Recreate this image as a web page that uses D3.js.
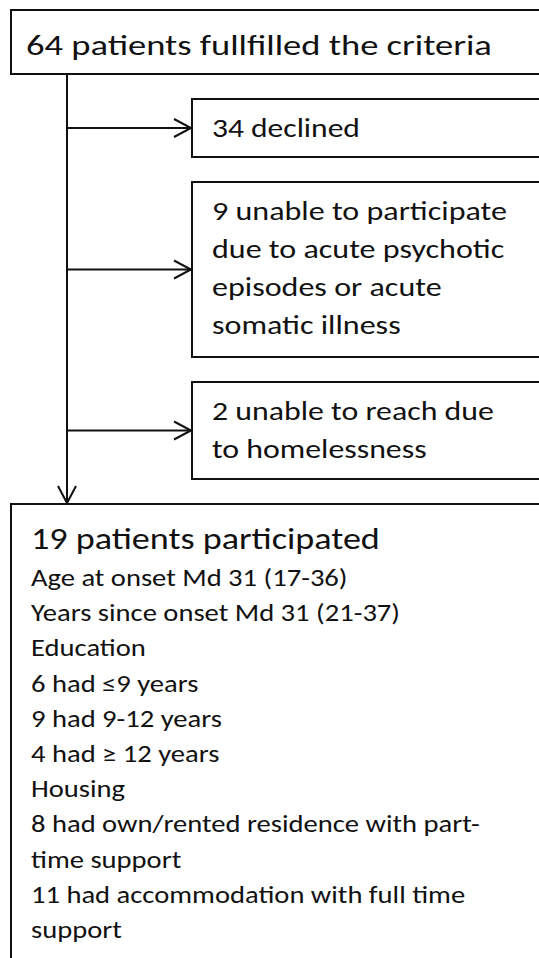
<!DOCTYPE html>
<html><head><meta charset="utf-8">
<script src="https://cdn.jsdelivr.net/npm/d3@7"></script>
<style>html,body{margin:0;padding:0;background:#fff;overflow:hidden}</style>
</head><body><svg id="c" width="539" height="958"></svg>
<script>
// ---- data (text content of the flow chart) ----
const screenedLines = ["64 patients fullfilled the criteria"];
const excludedLabels = [
  ["34 declined"],
  ["9 unable to participate", "due to acute psychotic", "episodes or acute", "somatic illness"],
  ["2 unable to reach due", "to homelessness"]
];
const participantTitle = ["19 patients participated"];
const participantLines = [
  "Age at onset Md 31 (17-36)",
  "Years since onset Md 31 (21-37)",
  "Education",
  "6 had \u22649 years",
  "9 had 9-12 years",
  "4 had \u2265 12 years",
  "Housing",
  "8 had own/rented residence with part-",
  "time support",
  "11 had accommodation with full time",
  "support"
];

// ---- layout ----
const FONT = "Carlito, Lato, 'Open Sans', sans-serif";
const svg = d3.select("#c");
const ink = "#111";
const SW = 2;

const topBox = {x: 11, y: 10, h: 64};
const exclBoxes = [{y0: 99, y1: 157}, {y0: 182, y1: 357}, {y0: 382, y1: 479}];
const exclX = 192;
const spineX = 67;
const bottomBox = {x: 11, y: 504};

function textBlock(lines, x, y0, step, size, refIdx, targetW) {
  const g = svg.append("g");
  const t = g.selectAll("text").data(lines).join("text")
    .attr("x", x).attr("y", (d, i) => y0 + i * step)
    .attr("font-family", FONT).attr("font-size", size)
    .attr("fill", ink).text(d => d);
  const nat = t.nodes()[refIdx].getComputedTextLength();
  const k = targetW / nat;
  g.attr("transform", `translate(${x},0) scale(${k},1) translate(${-x},0)`);
  return g;
}

function chevron(tx, ty, dir) {
  // open arrowhead: dir "right" or "down"
  const p = d3.path();
  if (dir === "right") { p.moveTo(tx - 17, ty - 9); p.lineTo(tx, ty); p.lineTo(tx - 17, ty + 9); }
  else { p.moveTo(tx - 9, ty - 17); p.lineTo(tx, ty); p.lineTo(tx + 9, ty - 17); }
  svg.append("path").attr("d", p.toString()).attr("fill", "none")
    .attr("stroke", ink).attr("stroke-width", SW);
}

// top box
svg.append("rect").attr("x", topBox.x).attr("y", topBox.y).attr("width", 700).attr("height", topBox.h)
  .attr("fill", "#fff").attr("stroke", ink).attr("stroke-width", SW);
textBlock(screenedLines, 26, topBox.y + 45, 0, 28, 0, 466);

// spine
svg.append("line").attr("x1", spineX).attr("x2", spineX).attr("y1", topBox.y + topBox.h).attr("y2", bottomBox.y - 1)
  .attr("stroke", ink).attr("stroke-width", SW);
chevron(spineX, bottomBox.y - 1, "down");

// exclusion boxes
const exclTargets = [148, 295, 282];
excludedLabels.forEach((lines, i) => {
  const b = exclBoxes[i];
  svg.append("rect").attr("x", exclX).attr("y", b.y0).attr("width", 700).attr("height", b.y1 - b.y0)
    .attr("fill", "#fff").attr("stroke", ink).attr("stroke-width", SW);
  const ym = (b.y0 + b.y1) / 2;
  svg.append("line").attr("x1", spineX).attr("x2", exclX - 1).attr("y1", ym).attr("y2", ym)
    .attr("stroke", ink).attr("stroke-width", SW);
  chevron(exclX - 1, ym, "right");
  textBlock(lines, 212, b.y0 + 38.5, 37.8, 26.5, 0, exclTargets[i]);
});

// participants box
svg.append("rect").attr("x", bottomBox.x).attr("y", bottomBox.y).attr("width", 700).attr("height", 700)
  .attr("fill", "#fff").attr("stroke", ink).attr("stroke-width", SW);
textBlock(participantTitle, 31, 549, 0, 31, 0, 349);
textBlock(participantLines, 31, 586, 35.2, 24, 7, 449);
</script>
</body></html>
